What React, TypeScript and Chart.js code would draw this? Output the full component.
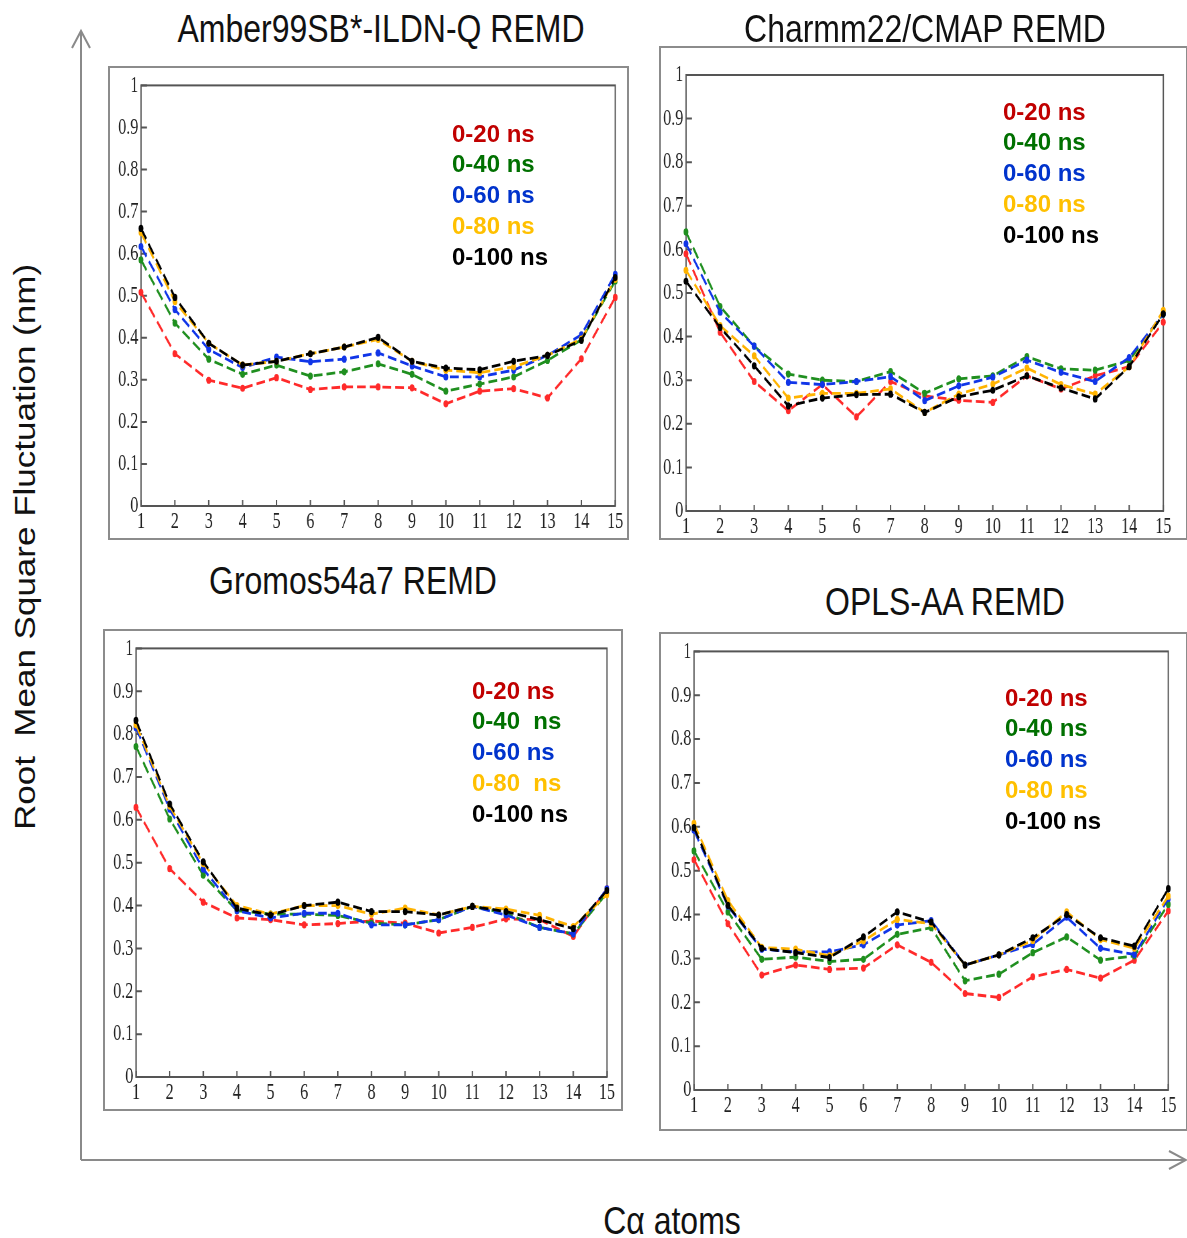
import React, { useEffect, useRef } from "react";
import { Chart, registerables } from "chart.js";
Chart.register(...registerables);

// ---------- data ----------
const atoms = ["1", "2", "3", "4", "5", "6", "7", "8", "9", "10", "11", "12", "13", "14", "15"];
const yTickLabels = ["0", "0.1", "0.2", "0.3", "0.4", "0.5", "0.6", "0.7", "0.8", "0.9", "1"];
const seriesNames = ["0-20 ns", "0-40 ns", "0-60 ns", "0-80 ns", "0-100 ns"];
const seriesNamesGromos = ["0-20 ns", "0-40  ns", "0-60 ns", "0-80  ns", "0-100 ns"];

const amberRed = [0.508, 0.362, 0.299, 0.280, 0.305, 0.277, 0.283, 0.283, 0.281, 0.243, 0.273, 0.279, 0.257, 0.350, 0.496];
const amberGreen = [0.585, 0.435, 0.349, 0.313, 0.335, 0.309, 0.319, 0.338, 0.313, 0.273, 0.290, 0.307, 0.346, 0.395, 0.535];
const amberBlue = [0.617, 0.467, 0.372, 0.329, 0.354, 0.343, 0.349, 0.364, 0.333, 0.307, 0.307, 0.323, 0.358, 0.407, 0.551];
const amberOrange = [0.650, 0.486, 0.387, 0.335, 0.344, 0.362, 0.378, 0.396, 0.344, 0.323, 0.317, 0.331, 0.358, 0.397, 0.539];
const amberBlack = [0.660, 0.496, 0.387, 0.335, 0.344, 0.362, 0.378, 0.401, 0.344, 0.328, 0.324, 0.344, 0.358, 0.394, 0.543];

const charmmRed = [0.590, 0.410, 0.297, 0.230, 0.290, 0.216, 0.297, 0.264, 0.254, 0.249, 0.310, 0.280, 0.310, 0.331, 0.433];
const charmmGreen = [0.640, 0.469, 0.378, 0.314, 0.300, 0.297, 0.320, 0.270, 0.303, 0.310, 0.354, 0.326, 0.323, 0.345, 0.452];
const charmmBlue = [0.613, 0.456, 0.378, 0.295, 0.290, 0.297, 0.308, 0.253, 0.287, 0.307, 0.346, 0.318, 0.297, 0.352, 0.452];
const charmmOrange = [0.552, 0.425, 0.356, 0.259, 0.270, 0.270, 0.280, 0.226, 0.268, 0.291, 0.328, 0.290, 0.268, 0.331, 0.460];
const charmmBlack = [0.527, 0.421, 0.333, 0.241, 0.259, 0.267, 0.268, 0.226, 0.262, 0.277, 0.310, 0.282, 0.257, 0.331, 0.452];

const gromosRed = [0.629, 0.486, 0.408, 0.371, 0.367, 0.355, 0.358, 0.364, 0.359, 0.336, 0.349, 0.369, 0.367, 0.328, 0.439];
const gromosGreen = [0.771, 0.602, 0.471, 0.388, 0.380, 0.380, 0.377, 0.359, 0.355, 0.367, 0.398, 0.382, 0.349, 0.334, 0.429];
const gromosBlue = [0.815, 0.625, 0.485, 0.388, 0.371, 0.382, 0.382, 0.355, 0.355, 0.367, 0.398, 0.378, 0.349, 0.334, 0.439];
const gromosOrange = [0.822, 0.632, 0.498, 0.400, 0.380, 0.400, 0.400, 0.380, 0.394, 0.378, 0.398, 0.392, 0.377, 0.351, 0.425];
const gromosBlack = [0.832, 0.637, 0.502, 0.394, 0.378, 0.400, 0.408, 0.386, 0.386, 0.378, 0.398, 0.386, 0.367, 0.346, 0.435];

const oplsRed = [0.525, 0.379, 0.262, 0.285, 0.275, 0.278, 0.331, 0.291, 0.220, 0.211, 0.258, 0.275, 0.255, 0.296, 0.408];
const oplsGreen = [0.545, 0.406, 0.298, 0.303, 0.293, 0.298, 0.355, 0.370, 0.249, 0.264, 0.313, 0.349, 0.296, 0.306, 0.423];
const oplsBlue = [0.592, 0.419, 0.321, 0.315, 0.315, 0.331, 0.376, 0.386, 0.285, 0.308, 0.332, 0.394, 0.323, 0.309, 0.436];
const oplsOrange = [0.608, 0.432, 0.325, 0.321, 0.306, 0.340, 0.389, 0.379, 0.285, 0.308, 0.341, 0.406, 0.343, 0.323, 0.442];
const oplsBlack = [0.598, 0.421, 0.323, 0.313, 0.302, 0.349, 0.406, 0.383, 0.285, 0.308, 0.347, 0.400, 0.347, 0.328, 0.459];

// ---------- styles ----------
const lineColors = ["#FF2A2A", "#1F8F1F", "#1035E8", "#FFB300", "#000000"];
const legendColors = ["#C00000", "#007000", "#0033CC", "#FFC000", "#000000"];
const K = 0.67; // horizontal squash of the inner plots

type Box = { l: number; t: number; r: number; b: number };
type PanelCfg = {
  title: string;
  titleX: number;
  titleY: number;
  box: Box;
  plot: Box;
  legendX: number;
  legendY: number;
  names: string[];
  series: number[][];
};

const panels: PanelCfg[] = [
  {
    title: "Amber99SB*-ILDN-Q REMD", titleX: 381, titleY: 28,
    box: { l: 109, t: 67, r: 626, b: 537 }, plot: { l: 141, t: 82, r: 615, b: 506 },
    legendX: 452, legendY: 134, names: seriesNames,
    series: [amberRed, amberGreen, amberBlue, amberOrange, amberBlack],
  },
  {
    title: "Charmm22/CMAP REMD", titleX: 925, titleY: 28,
    box: { l: 660, t: 47, r: 1185, b: 537 }, plot: { l: 686, t: 75, r: 1163, b: 511 },
    legendX: 1003, legendY: 112, names: seriesNames,
    series: [charmmRed, charmmGreen, charmmBlue, charmmOrange, charmmBlack],
  },
  {
    title: "Gromos54a7 REMD", titleX: 353, titleY: 580,
    box: { l: 104, t: 630, r: 620, b: 1108 }, plot: { l: 136, t: 645, r: 607, b: 1077 },
    legendX: 472, legendY: 691, names: seriesNamesGromos,
    series: [gromosRed, gromosGreen, gromosBlue, gromosOrange, gromosBlack],
  },
  {
    title: "OPLS-AA REMD", titleX: 945, titleY: 601,
    box: { l: 660, t: 633, r: 1185, b: 1128 }, plot: { l: 694, t: 648, r: 1168, b: 1090 },
    legendX: 1005, legendY: 698, names: seriesNames,
    series: [oplsRed, oplsGreen, oplsBlue, oplsOrange, oplsBlack],
  },
];

const framePlugin = {
  id: "frameTicks",
  beforeDatasetsDraw(chart: any) {
    const { ctx, chartArea, scales } = chart;
    const { left, right, top, bottom } = chartArea;
    ctx.save();
    ctx.strokeStyle = "#555";
    ctx.lineWidth = 2;
    ctx.strokeRect(left, top, right - left, bottom - top);
    ctx.beginPath();
    scales.y.ticks.forEach((_t: any, i: number) => {
      const py = scales.y.getPixelForTick(i);
      ctx.moveTo(left, py);
      ctx.lineTo(left + 9, py);
    });
    scales.x.ticks.forEach((_t: any, i: number) => {
      const px = scales.x.getPixelForTick(i);
      ctx.moveTo(px, bottom);
      ctx.lineTo(px, bottom - 6);
    });
    ctx.stroke();
    ctx.restore();
  },
};

const tickFont = { family: '"Liberation Serif", "Times New Roman", serif', size: 24 };

function Panel({ cfg }: { cfg: PanelCfg }) {
  const ref = useRef<HTMLCanvasElement>(null);
  const boxW = cfg.box.r - cfg.box.l;
  const boxH = cfg.box.b - cfg.box.t;
  const cw = Math.round(boxW / K);

  useEffect(() => {
    if (!ref.current) return;
    const padLeft = (cfg.plot.l - cfg.box.l) / K;
    const padRight = (cfg.box.r - cfg.plot.r) / K;
    const padTop = cfg.plot.t - cfg.box.t;
    const padBottom = cfg.box.b - cfg.plot.b;
    const chart = new Chart(ref.current, {
      type: "line",
      data: {
        labels: atoms,
        datasets: cfg.series.map((vals, i) => ({
          label: cfg.names[i],
          data: vals,
          borderColor: lineColors[i],
          backgroundColor: lineColors[i],
          pointBackgroundColor: lineColors[i],
          pointBorderWidth: 0,
          pointRadius: 3.6,
          borderWidth: 2.8,
          borderDash: [13, 6],
          tension: 0,
          fill: false,
          order: 4 - i,
        })),
      },
      options: {
        responsive: false,
        maintainAspectRatio: false,
        animation: false,
        devicePixelRatio: 1,
        layout: { padding: { top: padTop, right: padRight, left: 0, bottom: 0 } },
        plugins: {
          legend: { display: false },
          tooltip: { enabled: false },
          title: { display: false },
        },
        scales: {
          x: {
            type: "category",
            offset: false,
            grid: { display: false, drawTicks: false },
            border: { display: false },
            ticks: { font: tickFont, color: "#222", padding: 1, maxRotation: 0, autoSkip: false },
            afterFit: (s: any) => { s.height = padBottom; },
          },
          y: {
            min: 0,
            max: 1,
            grid: { display: false, drawTicks: false },
            border: { display: false },
            ticks: {
              stepSize: 0.1,
              font: tickFont,
              color: "#222",
              padding: 4,
              callback: (_v: any, idx: number) => yTickLabels[idx],
            },
            afterFit: (s: any) => { s.width = padLeft; },
          },
        },
      },
      plugins: [framePlugin],
    } as any);
    return () => chart.destroy();
  }, []);

  return (
    <>
      <div
        style={{
          position: "absolute",
          left: cfg.box.l - 1,
          top: cfg.box.t - 1,
          width: boxW,
          height: boxH,
          border: "2px solid #8c8c8c",
          boxSizing: "content-box",
        }}
      />
      <div style={{ position: "absolute", left: cfg.box.l, top: cfg.box.t, width: boxW, height: boxH, overflow: "hidden" }}>
        <canvas
          ref={ref}
          width={cw}
          height={boxH}
          style={{ position: "absolute", left: 0, top: 0, transform: `scaleX(${K})`, transformOrigin: "0 0" }}
        />
      </div>
      <div
        style={{
          position: "absolute",
          left: cfg.titleX,
          top: cfg.titleY,
          transform: "translate(-50%, -50%) scaleX(0.82)",
          fontFamily: '"Liberation Sans", Arial, sans-serif',
          fontSize: 39,
          lineHeight: 1,
          whiteSpace: "nowrap",
          color: "#111",
        }}
      >
        {cfg.title}
      </div>
      <div
        style={{
          position: "absolute",
          left: cfg.legendX,
          top: cfg.legendY - 15.4,
          fontFamily: '"Liberation Sans", Arial, sans-serif',
          fontWeight: "bold",
          fontSize: 24,
          lineHeight: "30.75px",
          whiteSpace: "pre",
        }}
      >
        {cfg.names.map((n, i) => (
          <div key={i} style={{ color: legendColors[i] }}>{n}</div>
        ))}
      </div>
    </>
  );
}

export default function App() {
  return (
    <div
      style={{
        position: "absolute",
        left: 0,
        top: 0,
        width: 1187,
        height: 1238,
        background: "#fff",
        overflow: "hidden",
      }}
    >
      <svg width={1187} height={1238} style={{ position: "absolute", left: 0, top: 0 }}>
        <g stroke="#8a8a8a" strokeWidth={2} fill="none">
          <line x1={81} y1={1160} x2={81} y2={31} />
          <polyline points="72,48 81,31 90,48" />
          <line x1={81} y1={1160} x2={1185} y2={1160} />
          <polyline points="1169,1151 1186,1160 1169,1169" />
        </g>
      </svg>
      {panels.map((p, i) => (
        <Panel key={i} cfg={p} />
      ))}
      <div style={{ position: "absolute", left: 25, top: 547, width: 0, height: 0, transform: "scaleX(0.82) rotate(-90deg)" }}>
        <div
          style={{
            position: "absolute",
            left: 0,
            top: 0,
            transform: "translate(-50%, -50%)",
            fontFamily: '"Liberation Sans", Arial, sans-serif',
            fontSize: 35,
            lineHeight: 1,
            whiteSpace: "pre",
            color: "#111",
          }}
        >
          {"Root  Mean Square Fluctuation (nm)"}
        </div>
      </div>
      <div
        style={{
          position: "absolute",
          left: 672,
          top: 1220,
          transform: "translate(-50%, -50%) scaleX(0.82)",
          fontFamily: '"Liberation Sans", Arial, sans-serif',
          fontSize: 39,
          lineHeight: 1,
          whiteSpace: "nowrap",
          color: "#111",
        }}
      >
        Cα atoms
      </div>
    </div>
  );
}
